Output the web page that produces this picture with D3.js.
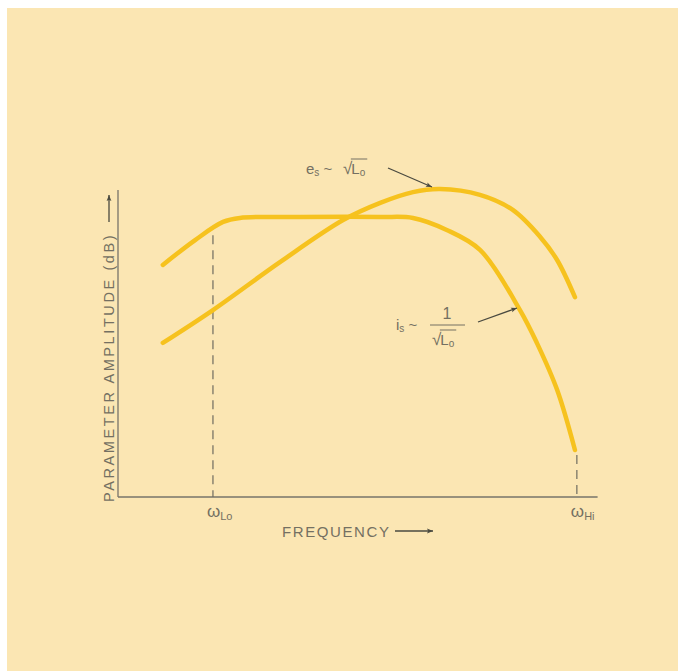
<!DOCTYPE html>
<html>
<head>
<meta charset="utf-8">
<script src="https://cdn.jsdelivr.net/npm/d3@7"></script>
<style>
  html, body { margin: 0; padding: 0; background: #ffffff; }
  svg { display: block; }
  text { font-family: "Liberation Sans", Arial, sans-serif; fill: #747062; }
</style>
</head>
<body>
<div id="chart"></div>
<script>
// curve i_s ~ 1/sqrt(Lo): flat, then rolls off
const isX = [9.3, 16.0, 21.8, 25.3, 37.8, 54.4, 61.2, 68.2, 75.1, 83.4, 86.9, 91.1, 94.8];
const isY = [75.6, 83.7, 89.6, 90.9, 91.2, 91.2, 90.9, 87.0, 80.5, 60.9, 50.2, 34.9, 15.3];
// curve e_s ~ sqrt(Lo): rising, peak, falling
const esX = [9.3, 19.7, 33.6, 46.7, 54.4, 61.2, 66.8, 75.1, 81.9, 87.6, 91.1, 94.8];
const esY = [50.2, 60.9, 76.5, 90.2, 95.8, 99.3, 100.3, 98.4, 93.5, 84.7, 77.2, 65.1];
// frequency markers
const markerNames = ["ω", "ω"];
const markerSubs = ["Lo", "Hi"];
const markerX = [19.7, 95.2];
const markerTop = [85.3, 13.7];

const width = 678, height = 671;
const x = d3.scaleLinear().domain([0, 100]).range([118, 600]);
const y = d3.scaleLinear().domain([0, 100]).range([497, 190]);

const svg = d3.select('#chart').append('svg')
  .attr('width', width).attr('height', height);

// paper background
svg.append('rect').attr('x', 7).attr('y', 8)
  .attr('width', width - 7).attr('height', height - 8)
  .attr('fill', '#fbe6b3');

const defs = svg.append('defs');
defs.append('marker')
  .attr('id', 'arrow')
  .attr('viewBox', '0 0 10 10')
  .attr('refX', 10).attr('refY', 5)
  .attr('markerWidth', 13).attr('markerHeight', 6)
  .attr('markerUnits', 'userSpaceOnUse')
  .attr('orient', 'auto')
  .append('path').attr('d', 'M0,1 L10,5 L0,9 L2,5 Z').attr('fill', '#4a4a40');

// axes (no ticks, just the frame)
svg.append('line')
  .attr('x1', x(0)).attr('y1', y(0)).attr('x2', x(0)).attr('y2', y(100))
  .attr('stroke', '#77746a').attr('stroke-width', 1.3);
svg.append('line')
  .attr('x1', x(0)).attr('y1', y(0)).attr('x2', x(99.5)).attr('y2', y(0))
  .attr('stroke', '#77746a').attr('stroke-width', 1.3);

// dashed markers
markerX.forEach((mx, i) => {
  svg.append('line')
    .attr('x1', x(mx)).attr('x2', x(mx))
    .attr('y1', y(markerTop[i])).attr('y2', y(0))
    .attr('stroke', '#6f6c60').attr('stroke-width', 1.2)
    .attr('stroke-dasharray', '9,6');
  const t = svg.append('text')
    .attr('x', x(mx) - 6).attr('y', y(0) + 20)
    .style('font-size', '17px');
  t.append('tspan').text(markerNames[i]);
  t.append('tspan').attr('dy', 3).style('font-size', '11px').text(markerSubs[i]);
});

// curves
const line = d3.line().x(d => x(d[0])).y(d => y(d[1])).curve(d3.curveCatmullRom.alpha(0.5));
[[isX, isY], [esX, esY]].forEach(([xs, ys]) => {
  svg.append('path')
    .datum(xs.map((v, i) => [v, ys[i]]))
    .attr('d', line)
    .attr('fill', 'none')
    .attr('stroke', '#f6c21e')
    .attr('stroke-width', 4.5)
    .attr('stroke-linecap', 'round');
});

// axis titles
svg.append('text')
  .attr('transform', `translate(114,${y(0) + 5}) rotate(-90)`)
  .style('font-size', '14.5px').style('letter-spacing', '2.6px')
  .text('PARAMETER AMPLITUDE (dB)');
svg.append('line')
  .attr('x1', 109).attr('y1', 222).attr('x2', 109).attr('y2', 195)
  .attr('stroke', '#4a4a40').attr('stroke-width', 1.3)
  .attr('marker-end', 'url(#arrow)');

svg.append('text')
  .attr('x', 282).attr('y', 537)
  .style('font-size', '15px').style('letter-spacing', '1.6px')
  .text('FREQUENCY');
svg.append('line')
  .attr('x1', 395).attr('y1', 531).attr('x2', 433).attr('y2', 531)
  .attr('stroke', '#4a4a40').attr('stroke-width', 1.3)
  .attr('marker-end', 'url(#arrow)');

// sqrt(Lo) helper: draws √ with an overbar over L_o
function sqrtLo(g, x0, base) {
  const r = g.append('text').attr('x', x0).attr('y', base).style('font-size', '17px').text('√');
  const rw = r.node().getComputedTextLength();
  const t = g.append('text').attr('x', x0 + rw - 1).attr('y', base).style('font-size', '15px');
  t.append('tspan').text('L');
  t.append('tspan').attr('dy', 2).style('font-size', '10px').text('o');
  const w = t.node().getComputedTextLength();
  g.append('line')
    .attr('x1', x0 + rw - 1.5).attr('x2', x0 + rw + w + 1)
    .attr('y1', base - 15).attr('y2', base - 15)
    .attr('stroke', '#747062').attr('stroke-width', 1);
  return x0 + rw + w;
}

// e_s annotation
const ge = svg.append('g');
const te = ge.append('text').attr('x', 306).attr('y', 174).style('font-size', '15px');
te.append('tspan').text('e');
te.append('tspan').attr('dy', 2).style('font-size', '10px').text('s');
te.append('tspan').attr('dy', -2).text(' ~');
sqrtLo(ge, 343, 174);
svg.append('line')
  .attr('x1', 388).attr('y1', 168).attr('x2', 432).attr('y2', 187)
  .attr('stroke', '#4a4a40').attr('stroke-width', 1.3)
  .attr('marker-end', 'url(#arrow)');

// i_s annotation
const gi = svg.append('g');
const ti = gi.append('text').attr('x', 396).attr('y', 330).style('font-size', '15px');
ti.append('tspan').text('i');
ti.append('tspan').attr('dy', 2).style('font-size', '10px').text('s');
ti.append('tspan').attr('dy', -2).text(' ~');
gi.append('text').attr('x', 447).attr('y', 319).attr('text-anchor', 'middle')
  .style('font-size', '16px').text('1');
gi.append('line').attr('x1', 430).attr('x2', 465).attr('y1', 325).attr('y2', 325)
  .attr('stroke', '#747062').attr('stroke-width', 1);
sqrtLo(gi, 432, 345);
svg.append('line')
  .attr('x1', 478).attr('y1', 322).attr('x2', 517).attr('y2', 308)
  .attr('stroke', '#4a4a40').attr('stroke-width', 1.3)
  .attr('marker-end', 'url(#arrow)');
</script>
</body>
</html>
